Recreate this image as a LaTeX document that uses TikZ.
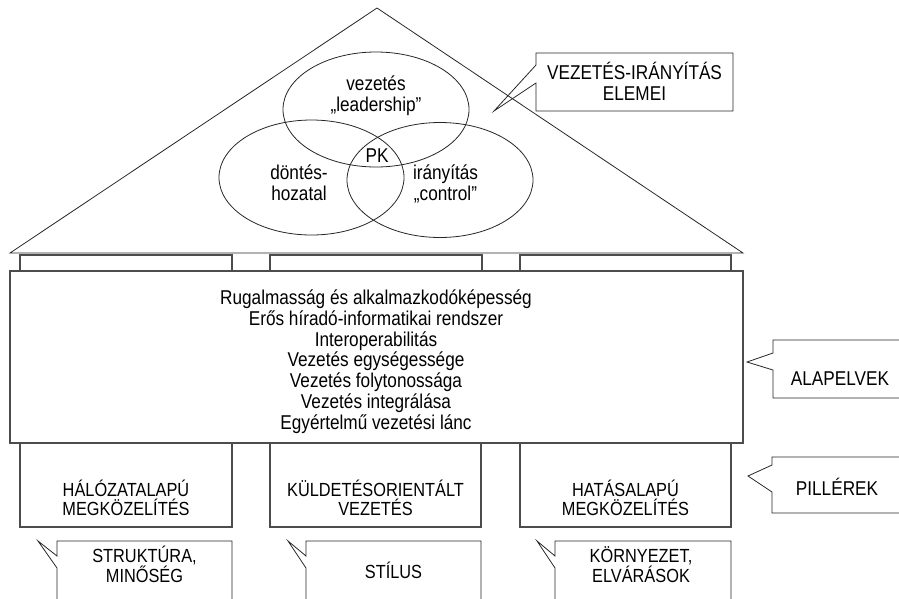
\documentclass[tikz,border=0pt]{standalone}
\usepackage{fontspec}
\setmainfont[FakeStretch=0.86]{Liberation Sans}
\usetikzlibrary{shapes.geometric}
\begin{document}
\begin{tikzpicture}[x=1pt,y=-1pt,
  thinline/.style={draw=black!85, line width=0.8pt},
  boxline/.style={draw=black!70, line width=1.2pt},
  blk/.style={rectangle, boxline, inner sep=0pt, outer sep=0pt},
  lbl/.style={align=center, inner sep=0pt, anchor=base, text=black},
  big/.style={font=\fontsize{20}{20.7}\selectfont},
  mid/.style={font=\fontsize{19}{18.5}\selectfont},
  oval/.style={ellipse, thinline, inner sep=0pt, outer sep=0pt, minimum width=186pt, minimum height=115pt}
]
\useasboundingbox (0,0) rectangle (899,598);

% roof
\coordinate (apex) at (377,8);
\coordinate (rl) at (10,253);
\coordinate (rr) at (743,253);
\draw[thinline] (rl) -- (apex) -- (rr) -- cycle;

% ellipses
\node[oval] (e1) at (376,109.5) {};
\node[oval, minimum width=185pt] (e2) at (311.5,177.5) {};
\node[oval] (e3) at (440,180) {};

% (multi-line nodes: base anchor = last line's baseline)
\node[lbl, big] (t1) at (376,111.5) {vezetés\\„leadership”};
\node[lbl, big] (pk) at (377,162.5) {PK};
\node[lbl, big] (t2) at (299,200.5) {döntés-\\hozatal};
\node[lbl, big] (t3) at (445.5,200.5) {irányítás\\„control”};

% top callout
\coordinate (c1a) at (536,65);
\coordinate (c1b) at (536,83);
\coordinate (c1tip) at (494,111);
\draw[thinline] (c1a) -- (536,53) -- (733,53) -- (733,111) -- (536,111) -- (c1b) -- (c1tip) -- cycle;
\node[lbl, big] (c1t) at (634.5,100.5) {VEZETÉS-IRÁNYÍTÁS\\ELEMEI};

% pillar tops
\node[blk, minimum width=212pt, minimum height=16pt] (pt1) at (126,263) {};
\node[blk, minimum width=212pt, minimum height=16pt] (pt2) at (376,263) {};
\node[blk, minimum width=211pt, minimum height=16pt] (pt3) at (625.5,263) {};

% main box
\node[blk, minimum width=733pt, minimum height=172pt] (main) at (376.5,357) {};
\node[lbl, big] (mt) at (376,429) {Rugalmasság és alkalmazkodóképesség\\Erős híradó-informatikai rendszer\\Interoperabilitás\\Vezetés egységessége\\Vezetés folytonossága\\Vezetés integrálása\\Egyértelmű vezetési lánc};

% pillars
\node[blk, minimum width=212pt, minimum height=84pt] (p1) at (126,485) {};
\node[blk, minimum width=211pt, minimum height=84pt] (p2) at (375.5,485) {};
\node[blk, minimum width=211pt, minimum height=84pt] (p3) at (625.5,485) {};
\node[lbl, mid] (p1t) at (126,515) {HÁLÓZATALAPÚ\\MEGKÖZELÍTÉS};
\node[lbl, mid] (p2t) at (375.5,515) {KÜLDETÉSORIENTÁLT\\VEZETÉS};
\node[lbl, mid] (p3t) at (625.5,515) {HATÁSALAPÚ\\MEGKÖZELÍTÉS};

% right callouts
\draw[thinline] (910,340) -- (773,340) -- (773,353) -- (747,362) -- (773,370) -- (773,398) -- (910,398);
\node[lbl, big] (alap) at (840,385) {ALAPELVEK};
\draw[thinline] (910,457) -- (772,457) -- (772,465) -- (748,476) -- (772,492) -- (772,513) -- (910,513);
\node[lbl, big] (pill) at (837,495) {PILLÉREK};

% bottom callouts
\draw[thinline] (57,610) -- (57,568) -- (38,541) -- (57,556) -- (57,541) -- (232,541) -- (232,610);
\node[lbl, mid] (b1) at (144.5,582) {STRUKTÚRA,\\MINŐSÉG};
\draw[thinline] (306,610) -- (306,568) -- (288,541) -- (306,556) -- (306,541) -- (481,541) -- (481,610);
\node[lbl, mid] (b2) at (393.5,578) {STÍLUS};
\draw[thinline] (555,610) -- (555,568) -- (537,541) -- (555,556) -- (555,541) -- (731,541) -- (731,610);
\node[lbl, mid] (b3) at (641,582) {KÖRNYEZET,\\ELVÁRÁSOK};
\end{tikzpicture}
\end{document}
